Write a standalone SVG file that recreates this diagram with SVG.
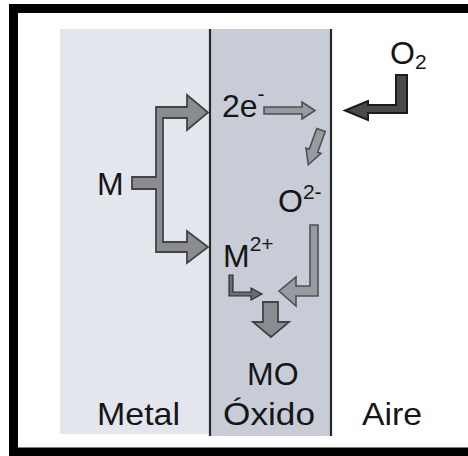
<svg xmlns="http://www.w3.org/2000/svg" width="468" height="456" viewBox="0 0 468 456">
<style>
.t{font-family:"Liberation Sans",Arial,sans-serif;font-size:32px;fill:#161616}
.s{font-size:21px}
.arr{fill:#8a8c91;stroke:#434343;stroke-width:1.8;stroke-linejoin:miter}
.arrl{fill:#979a9f;stroke:#4e5054;stroke-width:1.6}
.arrd{fill:#4a4a4c;stroke:#1c1c1c;stroke-width:2}
.div{stroke:#2a2a2a;stroke-width:2.2}
</style>
<rect x="0" y="0" width="468" height="456" fill="#ffffff"/>
<g id="metal">
<rect x="60" y="29" width="150" height="405" fill="#e3e6ed"/>
<text class="t" x="97" y="425" textLength="83" lengthAdjust="spacingAndGlyphs">Metal</text>
</g>
<g id="oxido">
<rect x="210" y="29" width="121" height="407" fill="#c8ccd6"/>
<line class="div" x1="210" y1="29" x2="210" y2="436"/>
<line class="div" x1="331" y1="29" x2="331" y2="436"/>
<text class="t" x="223" y="425" textLength="92" lengthAdjust="spacingAndGlyphs">Óxido</text>
</g>
<g id="aire">
<text class="t" x="362" y="425" textLength="60" lengthAdjust="spacingAndGlyphs">Aire</text>
</g>
<g id="node-M"><text class="t" x="97" y="195">M</text></g>
<g id="node-2e"><text class="t" x="222" y="117">2e<tspan class="s" dy="-16">-</tspan></text></g>
<g id="node-O2"><text class="t" x="390" y="64">O<tspan class="s" dy="5">2</tspan></text></g>
<g id="node-O2minus"><text class="t" x="278" y="212">O<tspan class="s" dy="-13">2-</tspan></text></g>
<g id="node-M2plus"><text class="t" x="223" y="267">M<tspan class="s" dy="-16">2+</tspan></text></g>
<g id="node-MO"><text class="t" x="247" y="385">MO</text></g>
<g id="connectors">
<path class="arr" d="M132,177 L156,177 L156,107 L187,107 L187,95 L208,112.5 L187,130 L187,118 L163,118 L163,242 L187,242 L187,231 L208,247 L187,263 L187,252 L156,252 L156,189 L132,189 Z"/>
<path class="arrl" d="M264,107 L302,107 L302,102 L315,110.5 L302,119 L302,114 L264,114 Z"/>
<path class="arrd" d="M396,75 L407,75 L407,113 L368,113 L368,120 L345,110.5 L368,101 L368,105 L396,105 Z"/>
<path class="arrl" transform="translate(321,130) rotate(20)" d="M-4.5,0 L4.5,0 L4.5,22 L8,22 L0,37 L-8,22 L-4.5,22 Z"/>
<path class="arrl" d="M310,225 L318,225 L318,296 L296,296 L296,306 L279,291 L296,277 L296,286 L310,286 Z"/>
<path class="arrl" style="fill:#6a6c70;stroke:#2e2e2e;stroke-width:1.2" d="M229,275 L233,275 L233,292 L251,292 L251,288 L262,294 L251,300 L251,296 L229,296 Z"/>
<path class="arr" d="M263,302 L278,302 L278,322 L289,322 L271,337 L253,322 L263,322 Z"/>
</g>
<rect x="13.5" y="8.5" width="470" height="443.5" fill="none" stroke="#000" stroke-width="9"/>
</svg>
